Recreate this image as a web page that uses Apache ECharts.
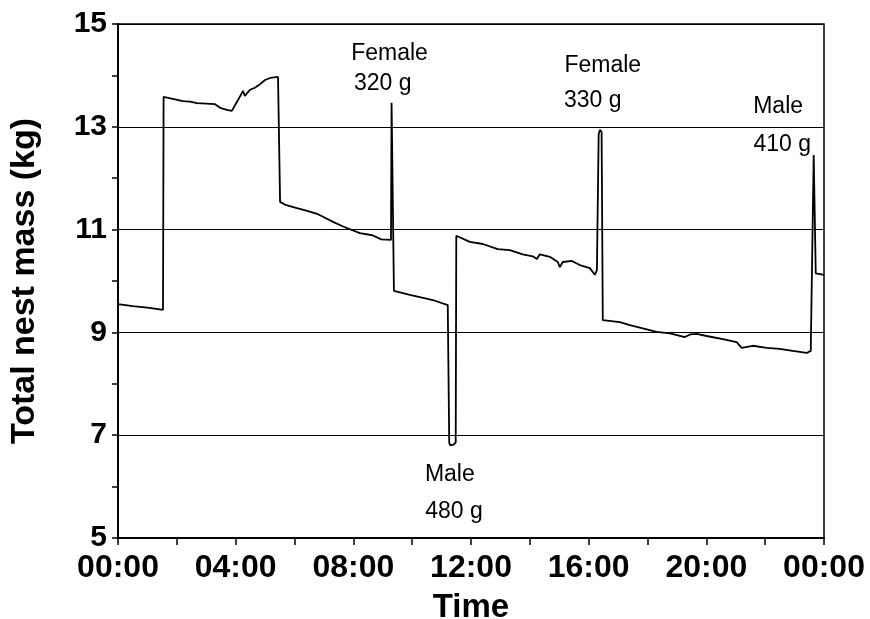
<!DOCTYPE html>
<html>
<head>
<meta charset="utf-8">
<script src="https://cdn.jsdelivr.net/npm/echarts@6/dist/echarts.min.js"></script>
<style>
  html, body { margin: 0; padding: 0; background: #fff; }
  #chart { width: 870px; height: 619px; }
</style>
</head>
<body>
<div id="chart"></div>
<script>
// time of day in hours since midnight
const hours = [
  0.00, 0.50, 1.00, 1.53, 1.55, 1.90, 2.21, 2.45, 2.68, 3.00, 3.30, 3.47, 3.70, 3.87,
  4.08, 4.25, 4.31, 4.38, 4.49, 4.65, 4.83, 5.00, 5.17, 5.44, 5.50, 5.51, 5.70, 6.08,
  6.40, 6.80, 7.31, 7.65, 8.22, 8.65, 8.95, 9.28, 9.30, 9.36, 9.38, 9.92, 10.30, 10.70,
  11.21, 11.24, 11.26, 11.30, 11.42, 11.48, 11.50, 11.96, 12.40, 12.91, 13.32, 13.76,
  14.10, 14.24, 14.34, 14.68, 14.95, 15.02, 15.12, 15.43, 15.70, 16.04, 16.21, 16.28,
  16.32, 16.34, 16.38, 16.44, 16.48, 17.06, 17.40, 17.84, 18.31, 18.76, 19.27, 19.45,
  19.67, 20.01, 20.56, 21.03, 21.20, 21.58, 22.05, 22.49, 22.94, 23.41, 23.55, 23.60,
  23.65, 23.72, 24.00
];

// total nest mass (kg)
const mass = [
  9.55, 9.51, 9.48, 9.44, 13.58, 13.54, 13.50, 13.49, 13.46, 13.45, 13.44, 13.37, 13.33, 13.31,
  13.52, 13.70, 13.60, 13.65, 13.72, 13.76, 13.83, 13.91, 13.95, 13.97, 13.98, 11.54, 11.48, 11.42,
  11.37, 11.30, 11.15, 11.06, 10.93, 10.89, 10.81, 10.80, 13.47, 13.47, 9.81, 9.73, 9.68, 9.63,
  9.53, 9.52, 6.85, 6.80, 6.82, 6.86, 10.88, 10.76, 10.72, 10.62, 10.60, 10.52,
  10.48, 10.43, 10.52, 10.47, 10.37, 10.27, 10.37, 10.39, 10.31, 10.25, 10.12, 10.21,
  10.22, 12.85, 12.94, 12.90, 9.24, 9.20, 9.14, 9.08, 9.01, 8.98, 8.91, 8.96,
  8.97, 8.93, 8.87, 8.81, 8.70, 8.74, 8.70, 8.68, 8.64, 8.60, 8.64, 8.65,
  12.45, 10.15, 10.12
];

// bird visit annotations
const annoText = ['Female', '320 g', 'Female', '330 g', 'Male', '410 g', 'Male', '480 g'];
const annoHour = [9.23, 9.00, 16.48, 16.14, 22.44, 22.58, 11.28, 11.42];
const annoKg   = [14.43, 13.83, 14.19, 13.50, 13.40, 12.66, 6.24, 5.52];

const xTicks = ['00:00', '04:00', '08:00', '12:00', '16:00', '20:00', '00:00'];

const font = "'Liberation Sans', Arial, sans-serif";

const chart = echarts.init(document.getElementById('chart'));

chart.setOption({
  animation: false,
  backgroundColor: '#fff',
  grid: {
    left: 118, right: 46, top: 24, bottom: 81,
    containLabel: false,
    outerBoundsMode: 'none',
    show: true,
    borderColor: '#000',
    borderWidth: 1.5
  },
  xAxis: {
    type: 'value',
    min: 0, max: 24, interval: 2,
    name: 'Time',
    nameLocation: 'middle',
    nameGap: 53,
    nameTextStyle: { fontFamily: font, fontWeight: 'bold', fontSize: 33, color: '#000' },
    axisLine: { lineStyle: { color: '#000', width: 2 } },
    axisTick: { show: true, length: 7, lineStyle: { color: '#000', width: 1.5 } },
    axisLabel: {
      fontFamily: font, fontWeight: 'bold', fontSize: 32, color: '#000', margin: 14,
      formatter: v => (v % 4 === 0 ? xTicks[v / 4] : '')
    },
    splitLine: { show: false }
  },
  yAxis: {
    type: 'value',
    min: 5, max: 15, interval: 1,
    name: 'Total nest mass (kg)',
    nameLocation: 'middle',
    nameGap: 76,
    nameTextStyle: { fontFamily: font, fontWeight: 'bold', fontSize: 34, color: '#000' },
    axisLine: { lineStyle: { color: '#000', width: 2 } },
    axisTick: { show: true, length: 6, lineStyle: { color: '#000', width: 1.5 } },
    axisLabel: {
      fontFamily: font, fontWeight: 'bold', fontSize: 30, color: '#000', margin: 11,
      formatter: v => (v % 2 === 1 ? String(v) : '')
    },
    splitLine: { show: true, lineStyle: { color: ['#000', 'rgba(0,0,0,0)'], width: 1.2 } }
  },
  series: [
    {
      name: 'Total nest mass',
      type: 'line',
      data: hours.map((h, i) => [h, mass[i]]),
      showSymbol: false,
      symbol: 'none',
      lineStyle: { color: '#000', width: 1.8 },
      z: 3
    },
    {
      name: 'Annotations',
      type: 'scatter',
      data: annoHour.map((h, i) => [h, annoKg[i]]),
      symbolSize: 0,
      silent: true,
      itemStyle: { color: '#000', opacity: 1 },
      label: {
        show: true,
        position: 'inside',
        fontFamily: font,
        fontSize: 23,
        color: '#000',
        textBorderWidth: 0,
        formatter: p => annoText[p.dataIndex]
      },
      z: 4
    }
  ]
});
</script>
</body>
</html>
